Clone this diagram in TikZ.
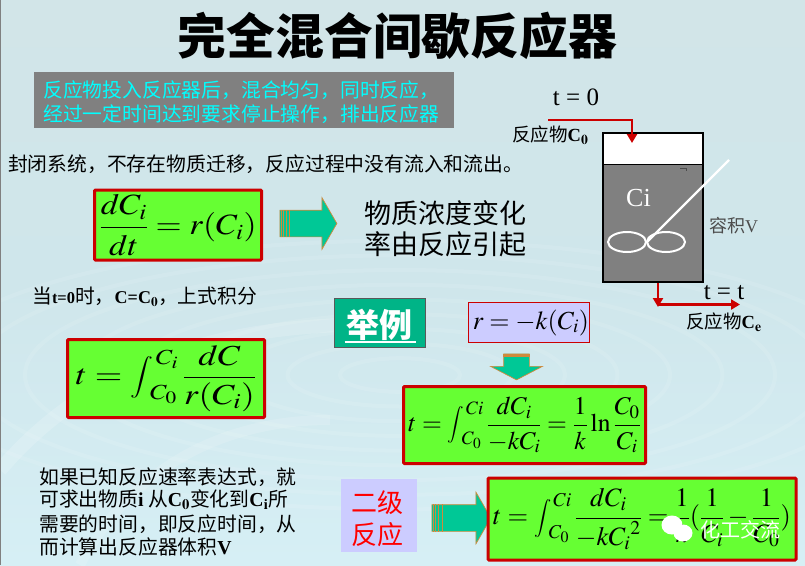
\documentclass[tikz,border=0pt]{standalone}
\usepackage{amsmath}
\usepackage{graphicx}
\usepackage{mathptmx}
\usepackage[no-math]{fontspec}
\setmainfont{Liberation Serif}
\newfontfamily\cjk{Noto Sans CJK SC}
\usepackage{tikz}
\usetikzlibrary{calc, shapes.arrows, shapes.geometric, arrows.meta}
\definecolor{eqgreen}{HTML}{66FF33}
\definecolor{eqred}{HTML}{CC0000}
\definecolor{arrowgreen}{HTML}{00C896}
\definecolor{arroworange}{HTML}{D08A3C}
\definecolor{lilac}{HTML}{CCCCFF}
\definecolor{slategray}{HTML}{808080}
\definecolor{hdrcyan}{HTML}{00FFFF}
\definecolor{bgtop}{HTML}{D2E5E8}
\definecolor{bgmid}{HTML}{CFE6EB}
\definecolor{bgbot}{HTML}{D6EFF5}
\newcommand{\fs}[1]{\fontsize{#1}{#1}\selectfont}
\newcommand{\qc}{\symbol{"FF0C}}
\newcommand{\eqint}[2]{\mathop{\vcenter{\hbox{\scalebox{0.72}{$\displaystyle\int$}}}}\nolimits_{\!#1}^{\,#2}}
\newcommand{\stripes}[1]{%
	\foreach \t in {0.04,0.1,0.16,0.24}
		\draw [arroworange, line width=0.9pt] ($(#1.before tail)!\t!(#1.after head)$) -- ($(#1.after tail)!\t!(#1.before head)$);
}
\tikzset{
	eqbox/.style={draw=eqred, fill=eqgreen, line width=3pt, rounded corners=1pt, inner sep=0pt},
	blockarrow/.style={single arrow, draw=arroworange, fill=arrowgreen, line width=0.7pt, inner xsep=0pt, inner ysep=13pt, single arrow head extend=12.5pt, single arrow tip angle=120, anchor=center},
	pipe/.style={draw=eqred, line width=2.6pt},
	pipetip/.style={pipe, -{Triangle[length=9pt, width=10pt]}},
	lab/.style={inner sep=0pt, text=black},
	para/.style={lab, anchor=west, font=\fs{19.8}\cjk},
}
\begin{document}
\begin{tikzpicture}[x=1pt, y=-1pt]
	\useasboundingbox (0,0) rectangle (805,565);
	\shade [top color=bgtop, bottom color=bgbot, middle color=bgmid] (0,0) rectangle (805,565);
	\foreach \r in {40,75,...,320}
		\draw [white, opacity=0.10, line width=4pt] (400,375) ellipse ({\r*1.5} and {\r*0.42});
	\draw [white, opacity=0.16, line width=14pt] (0,470) .. controls (60,400) and (160,330) .. (345,325);
	\draw [white, opacity=0.14, line width=10pt] (80,565) .. controls (130,470) and (220,420) .. (330,420);
	\draw [slategray, line width=1.5pt] (0,0) -- (0,565);

	% title and header
	\node [inner sep=0pt] (title) at (397.5,36) {\fs{48.8}\cjk\bfseries 完全混合间歇反应器};
	\node [fill=slategray, minimum width=420pt, minimum height=56pt, inner sep=0pt] (hdr) at (244,100) {};
	\node [lab, text=hdrcyan, anchor=west] (hdr1) at (43,90.5) {\fs{19.8}\cjk 反应物投入反应器后\qc{}混合均匀\qc{}同时反应\qc};
	\node [lab, text=hdrcyan, anchor=west] (hdr2) at (43,114.5) {\fs{19.8}\cjk 经过一定时间达到要求停止操作\qc{}排出反应器};
	\node [para] (closed) at (8,164) {封闭系统\qc{}不存在物质迁移\qc{}反应过程中没有流入和流出。};

	% first balance
	\node [eqbox, minimum width=167pt, minimum height=70pt] (eq1) at (178,225) {\scalebox{1.2}[1.05]{\fs{28}$\dfrac{dC_i}{dt}=r(C_i)$}};
	\node [blockarrow, minimum height=57pt] (arr1) at (304.5,223.5) {};
	\stripes{arr1}
	\node [lab, anchor=west] (note1) at (364,213) {\fs{27}\cjk 物质浓度变化};
	\node [lab, anchor=west] (note2) at (364,244) {\fs{27}\cjk 率由反应引起};

	% integral
	\node [lab, anchor=west] (when) at (32,297) {\fs{19.8}\cjk 当{\rmfamily\bfseries\fs{16.5}t=0}时\qc{}{\rmfamily\bfseries\fs{18}C=C$_{\mathbf 0}$}\qc{}上式积分};
	\node [eqbox, minimum width=197pt, minimum height=78pt] (eq2) at (166,378.5) {\scalebox{1.22}[1]{\fs{29}$t=\eqint{C_0}{C_i}\dfrac{dC}{r(C_i)}$}};
	\node [para] (txt1) at (39,477) {如果已知反应速率表达式\qc{}就};
	\node [para] (txt2) at (39,500) {可求出物质{\rmfamily\bfseries i} 从{\rmfamily\bfseries C$_{\mathbf 0}$}变化到{\rmfamily\bfseries C$_{\mathbf i}$}所};
	\node [para] (txt3) at (39,524) {需要的时间\qc{}即反应时间\qc{}从};
	\node [para] (txt4) at (39,547) {而计算出反应器体积{\rmfamily\bfseries V}};

	% worked example
	\node [draw=black!65, fill=arrowgreen!90!black, line width=1pt, minimum width=91pt, minimum height=49pt, inner sep=0pt] (ex) at (380,323) {};
	\node [inner sep=0pt, text=white] (extxt) at (379.5,325) {\fs{33}\cjk\bfseries 举例};
	\coordinate (exl) at (344.5,342);
	\coordinate (exr) at (416,342);
	\draw [white, line width=1.2pt] (exl) -- (exr);
	\node [draw=eqred, fill=lilac, line width=0.8pt, minimum width=121pt, minimum height=40pt, inner sep=0pt] (rate) at (529,322.5) {\hspace{4pt}\fs{26}$r=-k(C_i)$};
	\node [blockarrow, shape border rotate=270, minimum height=26pt, inner xsep=12.5pt, inner ysep=0pt, single arrow head extend=13pt, single arrow tip angle=125] (arr2) at (516.5,363.5) {};
	\stripes{arr2}
	\node [eqbox, minimum width=242pt, minimum height=77pt] (eq3) at (524.5,425) {\fs{25.5}$t=\eqint{C_0}{Ci}\dfrac{dC_i}{-kC_i}=\dfrac{1}{k}\ln\dfrac{C_0}{C_i}$};

	% second order
	\node [fill=lilac, minimum width=76pt, minimum height=73pt, inner sep=0pt] (order) at (379,515.5) {};
	\node [inner sep=0pt, text=red] (ord1) at (377,503) {\fs{26}\cjk 二级};
	\node [inner sep=0pt, text=red] (ord2) at (377,535) {\fs{26}\cjk 反应};
	\node [blockarrow, minimum height=59pt] (arr3) at (457.5,518) {};
	\stripes{arr3}
	\node [eqbox, minimum width=308pt, minimum height=82pt] (eq4) at (642,519) {\fs{26.5}$t=\eqint{C_0}{Ci}\dfrac{dC_i}{-k{C_i}^2}=\dfrac{1}{k}(\dfrac{1}{C_i}-\dfrac{1}{C_0})$};

	% reactor
	\node [draw=black, fill=slategray, line width=2pt, minimum width=100pt, minimum height=149pt, inner sep=0pt] (tank) at (653,207.5) {};
	\node [fill=white, minimum width=98pt, minimum height=30pt, inner sep=0pt] (gas) at (653,149) {};
	\coordinate (lev0) at (604,164);
	\coordinate (lev1) at (702,164);
	\draw [black, line width=0.8pt] (lev0) -- (lev1);
	\coordinate (mk0) at (680,168);
	\coordinate (mk1) at (687,168);
	\coordinate (mk2) at (686,171);
	\draw [black!70, line width=0.7pt] (mk0) -- (mk1);
	\draw [black!70, line width=0.7pt] (mk0 -| mk2) -- (mk2);
	\node [lab, text=white] (ci) at (638.5,198) {\fs{26}Ci};
	\node [draw=white, line width=2pt, minimum width=38pt, minimum height=20pt, inner sep=0pt, ellipse] (bladeL) at (627,242) {};
	\node [draw=white, line width=2pt, minimum width=38pt, minimum height=20pt, inner sep=0pt, ellipse] (bladeR) at (666,242) {};
	\coordinate (shaft) at (729,160);
	\draw [white, line width=2.4pt] (bladeL.east) -- (shaft);
	\coordinate (in0) at (548,120);
	\coordinate (in1) at (632,120);
	\coordinate (in2) at (632,143);
	\draw [pipetip] (in0) -- (in1) -- (in2);
	\coordinate (out0) at (658,283);
	\coordinate (out1) at (658,307);
	\coordinate (out2) at (740,304.5);
	\draw [pipetip] (out0) -- (out1);
	\draw [pipetip] (out1 |- out2) -- (out2);
	\node [lab] (t0) at (576,97) {\fs{25}t = 0};
	\node [lab] (tt) at (724,293) {\fs{25}t = t};
	\node [lab, anchor=west] (feed) at (512,135) {\fs{18.5}\cjk 反应物{\rmfamily\bfseries C$_{\mathbf 0}$}};
	\node [lab, anchor=west] (prod) at (686,322) {\fs{18.5}\cjk 反应物{\rmfamily\bfseries C$_{\mathbf e}$}};
	\node [lab, text=black!70, anchor=west] (vol) at (709,226) {\fs{18}\cjk 容积{\rmfamily V}};

	% watermark
	\fill [white] (672,525) ellipse (10.5 and 9.5);
	\fill [white] (683,533) ellipse (9.5 and 8.5);
	\node [inner sep=0pt, text=white] (mark) at (740,530) {\fs{20}\cjk 化工交流};
\end{tikzpicture}
\end{document}
